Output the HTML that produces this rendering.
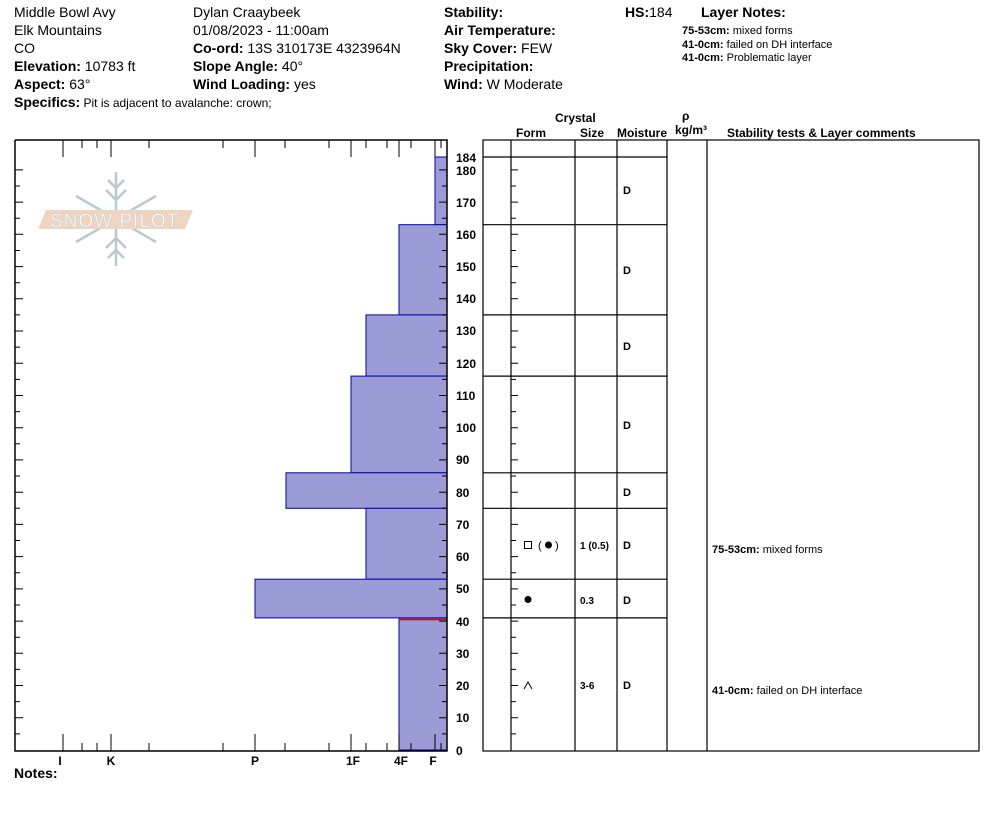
<!DOCTYPE html>
<html><head><meta charset="utf-8"><style>
body{margin:0;background:#fff;width:994px;height:840px;overflow:hidden;font-family:"Liberation Sans",Arial,sans-serif;}
svg{position:absolute;left:0;top:0}
</style></head><body>
<svg width="994" height="840" viewBox="0 0 994 840" font-family="Liberation Sans, Arial, sans-serif">
<g font-size="14" fill="#000">
<text x="14" y="17">Middle Bowl Avy</text>
<text x="14" y="35">Elk Mountains</text>
<text x="14" y="53">CO</text>
<text x="14" y="71"><tspan font-weight="bold">Elevation:</tspan> 10783 ft</text>
<text x="14" y="89"><tspan font-weight="bold">Aspect:</tspan> 63°</text>
<text x="14" y="107"><tspan font-weight="bold">Specifics:</tspan><tspan font-size="12"> Pit is adjacent to avalanche: crown;</tspan></text>
<text x="193" y="17">Dylan Craaybeek</text>
<text x="193" y="35">01/08/2023 - 11:00am</text>
<text x="193" y="53"><tspan font-weight="bold">Co-ord:</tspan> 13S 310173E 4323964N</text>
<text x="193" y="71"><tspan font-weight="bold">Slope Angle:</tspan> 40°</text>
<text x="193" y="89"><tspan font-weight="bold">Wind Loading:</tspan> yes</text>
<text x="444" y="17" font-weight="bold">Stability:</text>
<text x="444" y="35" font-weight="bold">Air Temperature:</text>
<text x="444" y="53"><tspan font-weight="bold">Sky Cover:</tspan> FEW</text>
<text x="444" y="71" font-weight="bold">Precipitation:</text>
<text x="444" y="89"><tspan font-weight="bold">Wind:</tspan>  W Moderate</text>
<text x="625" y="17"><tspan font-weight="bold">HS:</tspan>184</text>
<text x="701" y="17" font-weight="bold">Layer Notes:</text>
<text x="14" y="778" font-weight="bold">Notes:</text>
</g>
<g font-size="11" fill="#000">
<text x="682" y="34"><tspan font-weight="bold">75-53cm:</tspan>  mixed forms</text>
<text x="682" y="48"><tspan font-weight="bold">41-0cm:</tspan>  failed on DH interface</text>
<text x="682" y="61"><tspan font-weight="bold">41-0cm:</tspan> Problematic layer</text>
</g>
<!-- header of table -->
<g font-size="12" font-weight="bold">
<text x="555" y="122">Crystal</text>
<text x="516" y="137">Form</text>
<text x="580" y="137">Size</text>
<text x="617" y="137">Moisture</text>
<text x="682" y="120">ρ</text>
<text x="675" y="134">kg/m³</text>
<text x="727" y="137">Stability tests &amp; Layer comments</text>
</g>
<!-- logo -->
<g stroke="#bcc8d0" stroke-width="2.5" fill="none">
<line x1="116" y1="172" x2="116" y2="266"/>
<line x1="76" y1="196" x2="156" y2="242"/>
<line x1="156" y1="196" x2="76" y2="242"/>
<path d="M108 180 L116 188 L124 180 M106 190 L116 200 L126 190"/>
<path d="M108 258 L116 250 L124 258 M106 248 L116 238 L126 248"/>
</g>
<polygon points="46,210 193,210 185,229 38,229" fill="#efd5c0"/>
<text x="50" y="227" font-size="19" fill="#fff" stroke="#c9cfd4" stroke-width="0.6" letter-spacing="1">SNOW PILOT</text>
<!-- bars -->
<g fill="#9b9bd6" stroke="#0000aa" stroke-width="1">
<rect x="435" y="157" width="12" height="67.7"/>
<rect x="399" y="224.7" width="48" height="90.2"/>
<rect x="366" y="314.9" width="81" height="61.2"/>
<rect x="351" y="376.1" width="96" height="96.7"/>
<rect x="286" y="472.8" width="161" height="35.5"/>
<rect x="366" y="508.3" width="81" height="70.9"/>
<rect x="255" y="579.2" width="192" height="38.7"/>
<rect x="399" y="617.9" width="48" height="132.1"/>
</g>
<line x1="399" y1="619.5" x2="447" y2="619.5" stroke="#d00" stroke-width="1.5"/>
<!-- chart frame -->
<g stroke="#000" stroke-width="1.5" fill="none">
<polyline points="15,140 447,140 447,751 15,751 15,140"/>
</g>
<g stroke="#000" stroke-width="1">
<!-- major hardness ticks -->
<path d="M63 140v17M111 140v17M255 140v17M351 140v17M399 140v17M435 140v17M63 751v-17M111 751v-17M255 751v-17M351 751v-17M399 751v-17M435 751v-17"/>
<path d="M82 140v8M97 140v8M149 140v8M223 140v8M285 140v8M329 140v8M366 140v8M387 140v8M411 140v8M441 140v8M82 751v-8M97 751v-8M149 751v-8M223 751v-8M285 751v-8M329 751v-8M366 751v-8M387 751v-8M411 751v-8M441 751v-8"/>
<!-- y ticks: every 5cm -->
<path d="M15 169.9h8M15 186h5M15 202.1h8M15 218.2h5M15 234.3h8M15 250.5h5M15 266.6h8M15 282.7h5M15 298.8h8M15 314.9h5M15 331h8M15 347.1h5M15 363.2h8M15 379.4h5M15 395.5h8M15 411.6h5M15 427.7h8M15 443.8h5M15 459.9h8M15 476h5M15 492.2h8M15 508.3h5M15 524.4h8M15 540.5h5M15 556.6h8M15 572.7h5M15 588.9h8M15 605h5M15 621.1h8M15 637.2h5M15 653.3h8M15 669.4h5M15 685.5h8M15 701.6h5M15 717.8h8M15 733.9h5"/>
<path d="M439 169.9h8M442 186h5M439 202.1h8M442 218.2h5M439 234.3h8M442 250.5h5M439 266.6h8M442 282.7h5M439 298.8h8M442 314.9h5M439 331h8M442 347.1h5M439 363.2h8M442 379.4h5M439 395.5h8M442 411.6h5M439 427.7h8M442 443.8h5M439 459.9h8M442 476h5M439 492.2h8M442 508.3h5M439 524.4h8M442 540.5h5M439 556.6h8M442 572.7h5M439 588.9h8M442 605h5M439 621.1h8M442 637.2h5M439 653.3h8M442 669.4h5M439 685.5h8M442 701.6h5M439 717.8h8M442 733.9h5"/>
<!-- table ticks -->
<path d="M511 169.9h7M511 186h5M511 202.1h7M511 218.2h5M511 234.3h7M511 250.5h5M511 266.6h7M511 282.7h5M511 298.8h7M511 314.9h5M511 331h7M511 347.1h5M511 363.2h7M511 379.4h5M511 395.5h7M511 411.6h5M511 427.7h7M511 443.8h5M511 459.9h7M511 476h5M511 492.2h7M511 508.3h5M511 524.4h7M511 540.5h5M511 556.6h7M511 572.7h5M511 588.9h7M511 605h5M511 621.1h7M511 637.2h5M511 653.3h7M511 669.4h5M511 685.5h7M511 701.6h5M511 717.8h7M511 733.9h5"/>
</g>
<g font-size="12" font-weight="bold" text-anchor="start">
<text x="456" y="162">184</text>
<text x="456" y="175">180</text>
<text x="456" y="207">170</text>
<text x="456" y="239">160</text>
<text x="456" y="271">150</text>
<text x="456" y="303">140</text>
<text x="456" y="335">130</text>
<text x="456" y="368">120</text>
<text x="456" y="400">110</text>
<text x="456" y="432">100</text>
<text x="456" y="464">90</text>
<text x="456" y="497">80</text>
<text x="456" y="529">70</text>
<text x="456" y="561">60</text>
<text x="456" y="593">50</text>
<text x="456" y="626">40</text>
<text x="456" y="658">30</text>
<text x="456" y="690">20</text>
<text x="456" y="722">10</text>
<text x="456" y="755">0</text>
</g>
<g font-size="12" font-weight="bold" text-anchor="middle">
<text x="60" y="765">I</text>
<text x="111" y="765">K</text>
<text x="255" y="765">P</text>
<text x="353" y="765">1F</text>
<text x="401" y="765">4F</text>
<text x="433" y="765">F</text>
</g>
<!-- table -->
<g stroke="#000" stroke-width="1.2" fill="none">
<rect x="483" y="140" width="496" height="611"/>
<path d="M511 140V751M575 140V751M617 140V751M667 140V751M707 140V751"/>
<path d="M483 157h184M483 224.7h184M483 314.9h184M483 376.1h184M483 472.8h184M483 508.3h184M483 579.2h184M483 617.9h184"/>
</g>
<g font-size="11" font-weight="bold">
<text x="623" y="194">D</text>
<text x="623" y="274">D</text>
<text x="623" y="350">D</text>
<text x="623" y="429">D</text>
<text x="623" y="496">D</text>
<text x="623" y="549">D</text>
<text x="623" y="604">D</text>
<text x="623" y="689">D</text>
<text x="580" y="549" font-size="10">1 (0.5)</text>
<text x="580" y="604" font-size="10">0.3</text>
<text x="580" y="689" font-size="10">3-6</text>
</g>
<rect x="524.5" y="541.5" width="7" height="7" fill="none" stroke="#000" stroke-width="1"/>
<text x="538" y="549" font-size="11">(</text>
<circle cx="548.5" cy="545" r="3.5" fill="#000"/>
<text x="555" y="549" font-size="11">)</text>
<circle cx="528" cy="599.5" r="3.5" fill="#000"/>
<path d="M524 689 L528 682 L532 689" fill="none" stroke="#000" stroke-width="1"/>
<g font-size="11">
<text x="712" y="553"><tspan font-weight="bold">75-53cm:</tspan>  mixed forms</text>
<text x="712" y="694"><tspan font-weight="bold">41-0cm:</tspan>  failed on DH interface</text>
</g>
</svg>
</body></html>
